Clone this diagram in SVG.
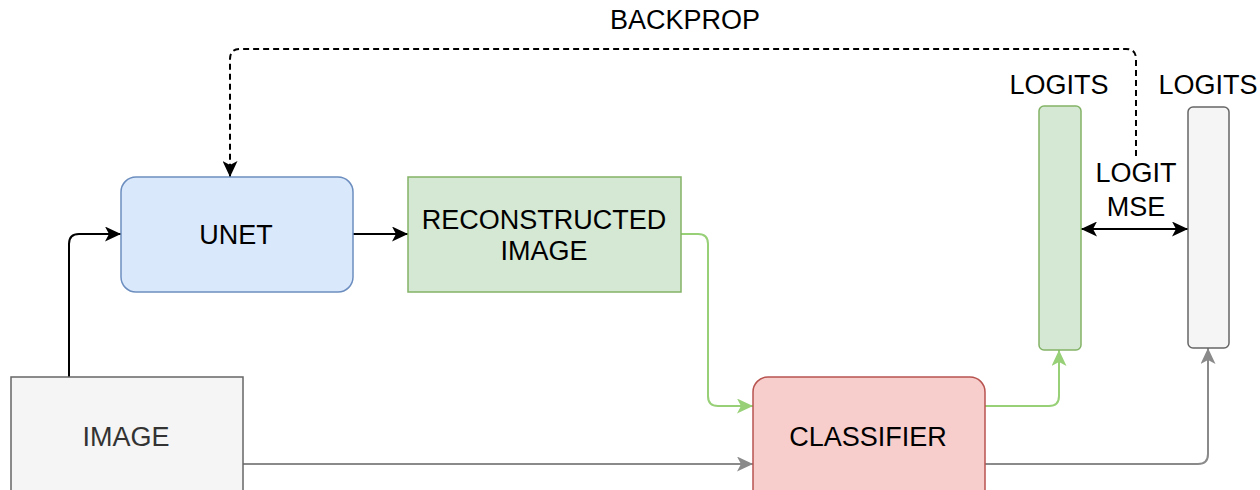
<svg xmlns="http://www.w3.org/2000/svg" width="1260" height="490" viewBox="0 0 1260 490">
<style>
text{font-family:"Liberation Sans",Arial,Helvetica,sans-serif;font-size:27px;fill:#000;text-anchor:middle}
.e{fill:none;stroke-width:2}
.k{stroke:#000}
.g{stroke:#97d077}
.y{stroke:#8a8a8a}
</style>
<defs>
<marker id="ak" markerUnits="userSpaceOnUse" markerWidth="17" markerHeight="15" refX="16" refY="7.5" orient="auto"><path d="M0,0 L16,7.5 L0,15 L4,7.5 z" fill="#000"/></marker>
<marker id="aks" markerUnits="userSpaceOnUse" markerWidth="17" markerHeight="15" refX="16" refY="7.5" orient="auto-start-reverse"><path d="M0,0 L16,7.5 L0,15 L4,7.5 z" fill="#000"/></marker>
<marker id="ag" markerUnits="userSpaceOnUse" markerWidth="17" markerHeight="15" refX="16" refY="7.5" orient="auto"><path d="M0,0 L16,7.5 L0,15 L4,7.5 z" fill="#97d077"/></marker>
<marker id="ay" markerUnits="userSpaceOnUse" markerWidth="17" markerHeight="15" refX="16" refY="7.5" orient="auto"><path d="M0,0 L16,7.5 L0,15 L4,7.5 z" fill="#8a8a8a"/></marker>
</defs>
<g id="connectors">
<path class="e k" d="M69,377 V244 Q69,234 79,234 H121" marker-end="url(#ak)"/>
<path class="e k" d="M353,234 H408" marker-end="url(#ak)"/>
<path class="e g" d="M681,234 H698 Q708,234 708,244 V396 Q708,406 718,406 H753" marker-end="url(#ag)"/>
<path class="e g" d="M985,406 H1049 Q1059,406 1059,396 V350" marker-end="url(#ag)"/>
<path class="e y" d="M243,464 H753" marker-end="url(#ay)"/>
<path class="e y" d="M985,464 H1198 Q1208,464 1208,454 V348" marker-end="url(#ay)"/>
<path class="e k" d="M1081,229 H1188" marker-start="url(#aks)" marker-end="url(#ak)"/>
<path class="e k" d="M1136,156 V59 Q1136,49 1126,49 H240 Q230,49 230,59 V177" stroke-dasharray="6 4" stroke-width="1.5" marker-end="url(#ak)"/>
<text x="685" y="29">BACKPROP</text>
<text x="1136" y="182">LOGIT</text>
<text x="1136" y="216">MSE</text>
</g>
<g id="unet">
<rect x="121" y="177" width="232" height="115" rx="15" fill="#dae8fc" stroke="#6c8ebf" stroke-width="1.5"/>
<text x="236" y="244">UNET</text>
</g>
<g id="reconstructed">
<rect x="408" y="177" width="273" height="115" fill="#d5e8d4" stroke="#82b366" stroke-width="1.5"/>
<text x="544" y="229">RECONSTRUCTED</text>
<text x="544" y="260">IMAGE</text>
</g>
<g id="image">
<rect x="11" y="377" width="232" height="130" fill="#f5f5f5" stroke="#666" stroke-width="1.5"/>
<text x="126" y="446" style="fill:#333">IMAGE</text>
</g>
<g id="classifier">
<rect x="753" y="377" width="232" height="130" rx="15" fill="#f8cecc" stroke="#b85450" stroke-width="1.5"/>
<text x="868" y="446">CLASSIFIER</text>
</g>
<g id="logits-pred">
<rect x="1039" y="106" width="42" height="244" rx="5" fill="#d5e8d4" stroke="#82b366" stroke-width="1.5"/>
<text x="1059" y="94">LOGITS</text>
</g>
<g id="logits-target">
<rect x="1188" y="107" width="41" height="241" rx="5" fill="#f5f5f5" stroke="#666" stroke-width="1.5"/>
<text x="1208" y="94">LOGITS</text>
</g>
</svg>
